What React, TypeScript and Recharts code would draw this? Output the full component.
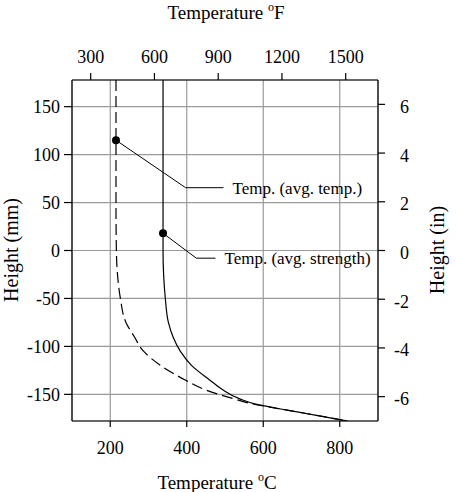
import { ScatterChart, Scatter, XAxis, YAxis, CartesianGrid, ReferenceDot } from 'recharts'

const SERIF = '"Liberation Serif", "Times New Roman", serif'

// heights in mm (shared by both profiles)
const heights = [177.8, 150, 100, 50, 0, -25, -50, -75, -90, -105, -120, -135, -145, -155, -160, -165, -170, -175, -177.8]
// temperature profile (°C) at average temperature
const tempAvg = [215, 215, 215, 215, 216, 219, 226.5, 241, 263, 287, 332, 396, 447, 526, 572, 642, 712, 782, 821]
// temperature profile (°C) at average strength
const tempStrength = [338, 338, 338, 338, 338, 339.5, 344, 352, 364, 383, 413, 460, 493, 540, 578, 642, 712, 782, 821]

const celsiusTicks = [200, 400, 600, 800]
const fahrenheitTicks = [300, 600, 900, 1200, 1500]
const mmTicks = [-150, -100, -50, 0, 50, 100, 150]
const inchTicks = [-6, -4, -2, 0, 2, 4, 6]

// secondary axes span the same range as the primary ones (°F = 1.8·°C + 32, in = mm / 25.4)
const fahrenheitRange = [212, 1652]
const inchRange = [-7, 7]

// callouts: marker on the curve, leader elbow, leader end
const avgTempCallout = [{ t: 215, h: 115 }, { t: 397, h: 65.5 }, { t: 496, h: 65.5 }]
const avgStrengthCallout = [{ t: 338, h: 18 }, { t: 425, h: -8 }, { t: 475, h: -8 }]
const markers = [avgTempCallout[0], avgStrengthCallout[0]]

const avgTempData = heights.map((h, i) => ({ h, t: tempAvg[i] }))
const strengthData = heights.map((h, i) => ({ h, t: tempStrength[i] }))
const secondaryData = [
  { f: fahrenheitRange[0], i: inchRange[0] },
  { f: fahrenheitRange[1], i: inchRange[1] },
]

const tickStyle = { fill: '#000', fontSize: 18, fontFamily: SERIF }
const axisLine = { stroke: '#000', strokeWidth: 1.2 }

const RightTick = ({ x, y, payload }: any) => (
  <text x={x + 22} y={y} dy="0.47em" textAnchor="end" fill="#000" fontSize={18} style={{ fontFamily: SERIF }}>
    {payload.value}
  </text>
)

const TempTitle = ({ x, y, unit }: { x: number; y: number; unit: string }) => (
  <text x={x} y={y} textAnchor="middle" fill="#000" fontSize={19} style={{ fontFamily: SERIF }}>
    Temperature{' '}
    <tspan fontSize={12} dy={-8}>o</tspan>
    <tspan dy={8}>{unit}</tspan>
  </text>
)

const HeightTitle = ({ x, y, text }: { x: number; y: number; text: string }) => (
  <text
    x={x}
    y={y}
    transform={`rotate(-90, ${x}, ${y})`}
    textAnchor="middle"
    fill="#000"
    fontSize={20}
    style={{ fontFamily: SERIF }}
  >
    {text}
  </text>
)

const noShape = () => <g />

export default function App() {
  return (
    <div style={{ position: 'absolute', left: 0, top: 0, fontFamily: SERIF }}>
      <ScatterChart width={456} height={492} margin={{ top: 0, right: 0, bottom: 0, left: 0 }}>
        <CartesianGrid stroke="#9a9a9a" strokeWidth={1.2} />
        <XAxis
          dataKey="t"
          type="number"
          domain={[100, 900]}
          ticks={celsiusTicks}
          allowDataOverflow
          height={71}
          tickSize={6}
          tickMargin={14}
          tick={tickStyle}
          axisLine={axisLine}
          tickLine={axisLine}
          label={{ content: () => <TempTitle x={217} y={489} unit="C" /> }}
        />
        <XAxis
          xAxisId="f"
          dataKey="f"
          orientation="top"
          type="number"
          domain={fahrenheitRange}
          ticks={fahrenheitTicks}
          allowDataOverflow
          height={80}
          tickSize={7}
          tickMargin={10}
          tick={tickStyle}
          axisLine={axisLine}
          tickLine={axisLine}
          label={{ content: () => <TempTitle x={226} y={19} unit="F" /> }}
        />
        <YAxis
          dataKey="h"
          type="number"
          domain={[-177.8, 177.8]}
          ticks={mmTicks}
          allowDataOverflow
          width={72}
          tickSize={8}
          tickMargin={4}
          tick={tickStyle}
          axisLine={axisLine}
          tickLine={axisLine}
          label={{ content: () => <HeightTitle x={18} y={250} text="Height (mm)" /> }}
        />
        <YAxis
          yAxisId="in"
          dataKey="i"
          orientation="right"
          type="number"
          domain={inchRange}
          ticks={inchTicks}
          allowDataOverflow
          width={78}
          tickSize={7}
          tickMargin={2}
          tick={<RightTick />}
          axisLine={axisLine}
          tickLine={axisLine}
          label={{ content: () => <HeightTitle x={444} y={250} text="Height (in)" /> }}
        />

        {/* invisible series that binds the °F and inch axes */}
        <Scatter xAxisId="f" yAxisId="in" data={secondaryData} shape={noShape} isAnimationActive={false} />

        <Scatter
          data={avgTempData}
          line={{ stroke: '#000', strokeWidth: 1.2, strokeDasharray: '11 5' }}
          lineJointType="monotoneY"
          shape={noShape}
          isAnimationActive={false}
        />
        <Scatter
          data={strengthData}
          line={{ stroke: '#000', strokeWidth: 1.2 }}
          lineJointType="monotoneY"
          shape={noShape}
          isAnimationActive={false}
        />

        <Scatter data={avgTempCallout} line={{ stroke: '#000', strokeWidth: 1 }} shape={noShape} isAnimationActive={false} />
        <Scatter data={avgStrengthCallout} line={{ stroke: '#000', strokeWidth: 1 }} shape={noShape} isAnimationActive={false} />
        <Scatter
          data={markers}
          shape={(p: any) => <circle cx={p.cx} cy={p.cy} r={4} fill="#000" />}
          isAnimationActive={false}
        />

        <ReferenceDot
          x={avgTempCallout[2].t}
          y={avgTempCallout[2].h}
          r={0}
          stroke="none"
          label={{ value: 'Temp. (avg. temp.)', position: 'right', offset: 9, fill: '#000', fontSize: 17, fontFamily: SERIF }}
        />
        <ReferenceDot
          x={avgStrengthCallout[2].t}
          y={avgStrengthCallout[2].h}
          r={0}
          stroke="none"
          label={{ value: 'Temp. (avg. strength)', position: 'right', offset: 9, fill: '#000', fontSize: 17, fontFamily: SERIF }}
        />
      </ScatterChart>
    </div>
  )
}
